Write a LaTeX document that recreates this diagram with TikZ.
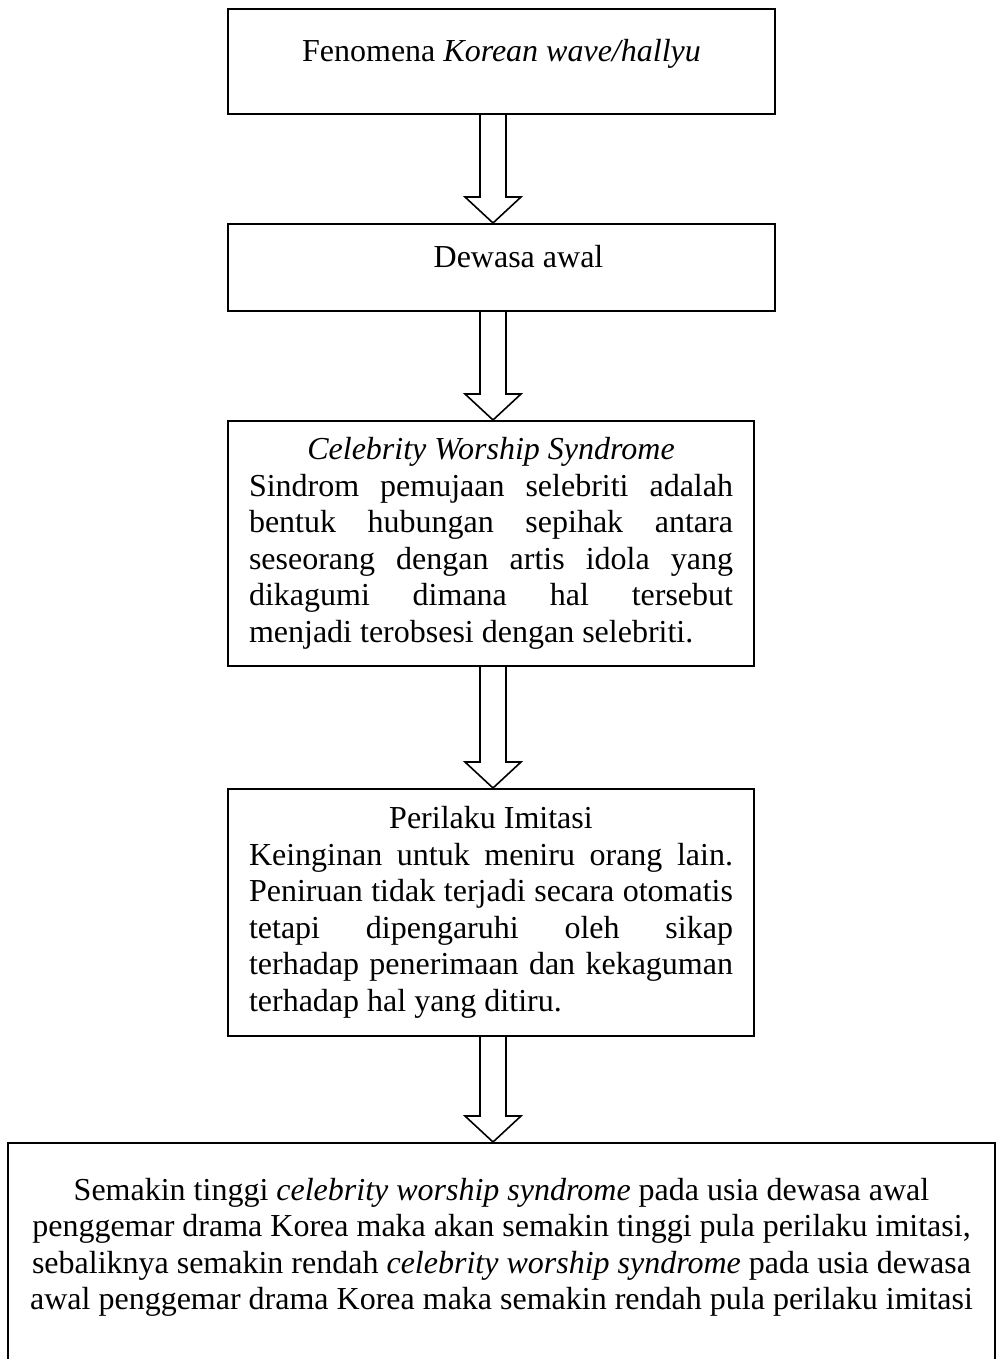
\documentclass[tikz,border=0pt]{standalone}
\usepackage{fontspec}
\setmainfont{Liberation Serif}
\usepackage{tikz}
\usetikzlibrary{positioning,calc}

\begin{document}
\begin{tikzpicture}[
  x=0.5pt,y=-0.5pt,
  box/.style={draw,line width=1pt,rectangle,inner sep=0pt,minimum width=273.5pt,font=\fontsize{16pt}{18.25pt}\selectfont},
  oneline/.style={box,text height=11pt,text depth=11pt},
  parbox/.style={box,minimum width=263pt,text width=242pt,align=justify},
  hollow/.style={draw,line width=0.8pt,miter limit=10,
    to path={($(\tikztostart)+(-6.5pt,0)$) -- ($(\tikztotarget)+(-6.5pt,13pt)$) -- ($(\tikztotarget)+(-14pt,13pt)$) -- (\tikztotarget) -- ($(\tikztotarget)+(14pt,13pt)$) -- ($(\tikztotarget)+(6.5pt,13pt)$) -- ($(\tikztostart)+(6.5pt,0)$)}},
]
\useasboundingbox (0,0) rectangle (996,1359);
\clip (0,0) rectangle (996,1359);
\coordinate (ax) at (493,0);

\node[oneline,minimum height=52.5pt] (fen) at (501.5,61.5) {Fenomena \textit{Korean wave/hallyu}};
\node[oneline,minimum height=43.5pt,below=54pt of fen] (dew) {\hspace*{17pt}Dewasa awal};
\node[parbox,minimum height=122.5pt,below=54pt of dew.south west,anchor=north west] (cws)
  {\makebox[\linewidth]{\itshape Celebrity Worship Syndrome}\par\noindent
   Sindrom pemujaan selebriti adalah\linebreak
   bentuk hubungan sepihak antara\linebreak
   seseorang dengan artis idola yang\linebreak
   dikagumi dimana hal tersebut\linebreak
   menjadi terobsesi dengan selebriti.};
\node[parbox,minimum height=123.5pt,below=60.5pt of cws] (imi)
  {\makebox[\linewidth]{Perilaku Imitasi}\par\noindent
   Keinginan untuk meniru orang lain.\linebreak
   Peniruan tidak terjadi secara otomatis\linebreak
   tetapi dipengaruhi oleh sikap\linebreak
   terhadap penerimaan dan kekaguman\linebreak
   terhadap hal yang ditiru.};
\node[box,minimum width=493.5pt,minimum height=119pt,align=center,anchor=north] (hyp) at (501.5,1142)
  {Semakin tinggi \textit{celebrity worship syndrome} pada usia dewasa awal\\
   penggemar drama Korea maka akan semakin tinggi pula perilaku imitasi,\\
   sebaliknya semakin rendah \textit{celebrity worship syndrome} pada usia dewasa\\
   awal penggemar drama Korea maka semakin rendah pula perilaku imitasi\\
   \mbox{}};

\draw[hollow] (fen.south -| ax) to (dew.north -| ax);
\draw[hollow] (dew.south -| ax) to (cws.north -| ax);
\draw[hollow] (cws.south -| ax) to (imi.north -| ax);
\draw[hollow] (imi.south -| ax) to (hyp.north -| ax);
\end{tikzpicture}
\end{document}
